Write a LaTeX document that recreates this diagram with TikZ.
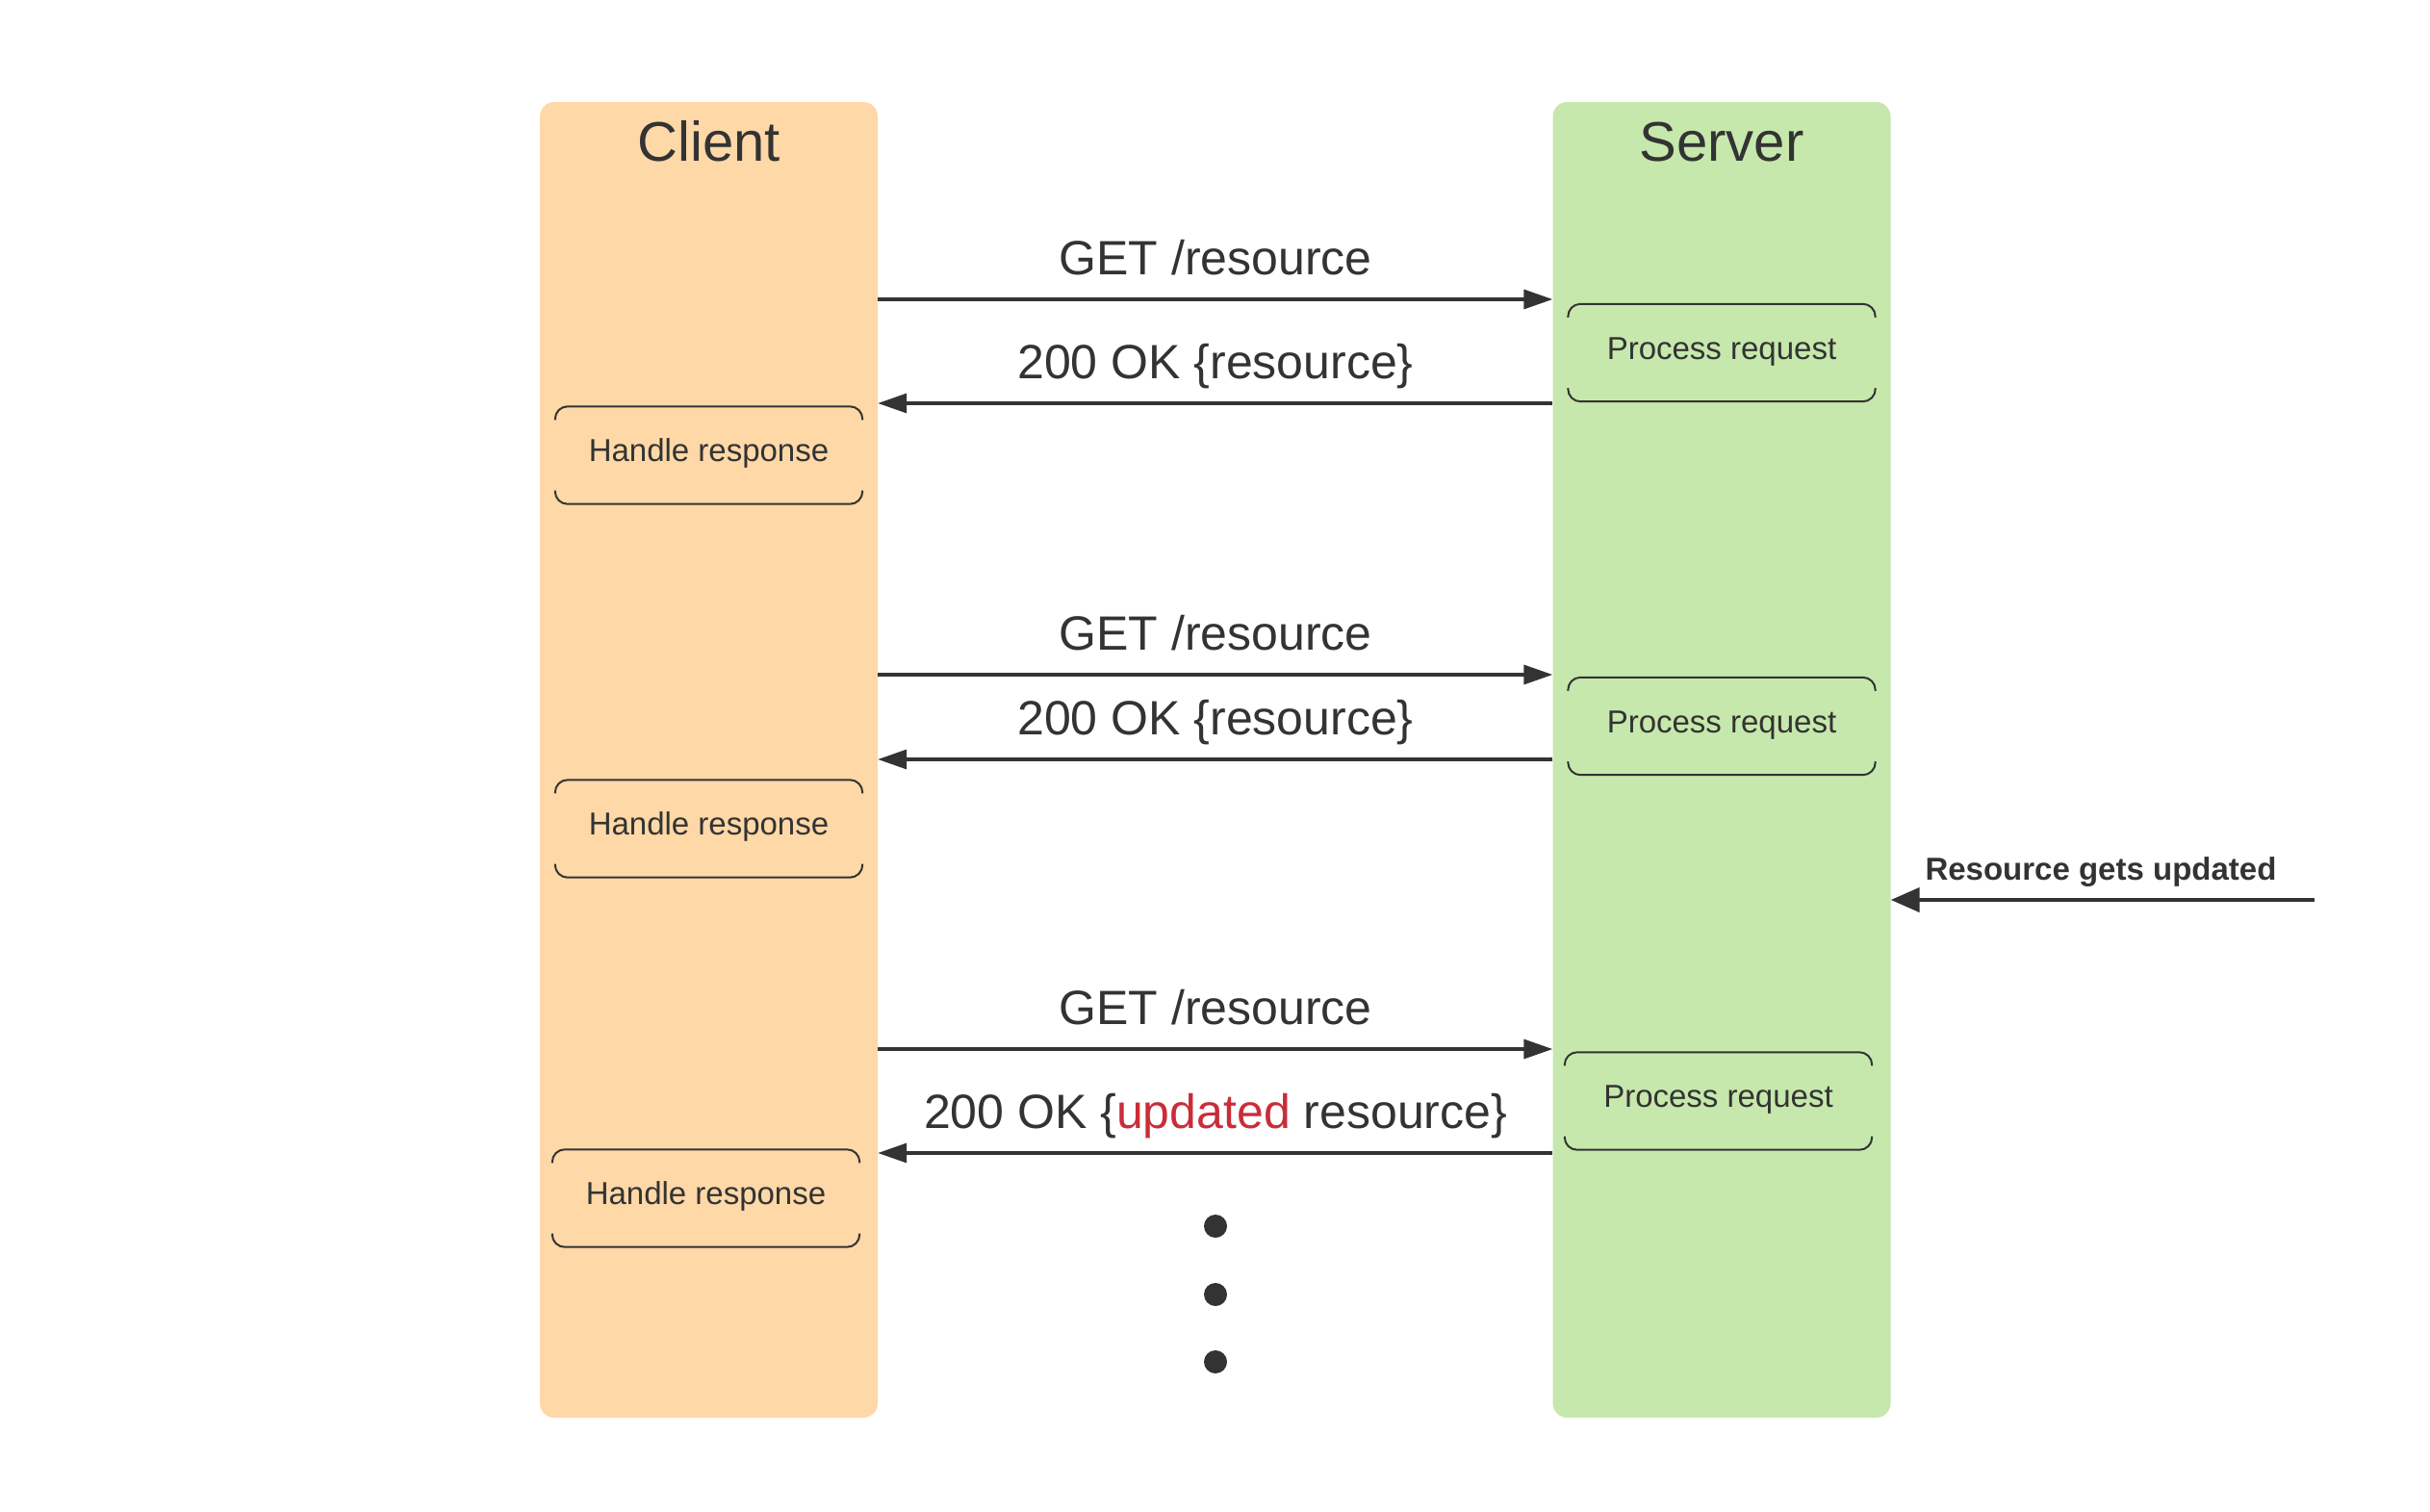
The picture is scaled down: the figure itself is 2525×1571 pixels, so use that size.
\documentclass[tikz,border=0pt]{standalone}
\usepackage{fontspec}
\setmainfont{Liberation Sans}
\usetikzlibrary{arrows.meta}
\definecolor{txt}{HTML}{333333}
\definecolor{clientfill}{HTML}{FED8A7}
\definecolor{serverfill}{HTML}{C6E8AC}
\definecolor{upred}{HTML}{C92D39}
\newcommand\fsz[1]{\fontsize{#1pt}{#1pt}\selectfont}
\tikzset{
  col/.style={rectangle, rounded corners=15pt, draw=none, minimum width=351pt, minimum height=1367pt, inner sep=0pt},
  coltitle/.style={anchor=base, text=txt, font=\fsz{58}, inner sep=0pt},
  msglabel/.style={anchor=base, text=txt, font=\fsz{50}, inner sep=0pt},
  stepbox/.style={rectangle, minimum width=319pt, minimum height=101pt, inner sep=0pt, text height=23pt, text depth=10pt, text=txt, font=\fsz{33}},
  bracketline/.style={draw=txt, line width=2pt, rounded corners=13pt},
  msgarrow/.style={draw=txt, line width=3.3pt, -{Triangle[length=30pt,width=20pt]}},
  updarrow/.style={draw=txt, line width=4.5pt, -{Triangle[length=30pt,width=25pt]}},
  dotn/.style={circle, fill=txt, minimum size=24pt, inner sep=0pt, draw=none}
}
\begin{document}
\begin{tikzpicture}[x=1pt,y=-1pt]
\useasboundingbox[fill=white] (0,0) rectangle (2525,1571);
% columns
\node[col, fill=clientfill] (client) at (736.5,789.5) {};
\node[col, fill=serverfill] (server) at (1789,789.5) {};
\node[coltitle] (clienttitle) at (737,167) {Client};
\node[coltitle] (servertitle) at (1789,167) {Server};
% step boxes
\node[stepbox] (pr1) at (1789,366.5) {Process request};
\node[stepbox] (pr2) at (1789,754.5) {Process request};
\node[stepbox] (pr3) at (1785.5,1144) {Process request};
\node[stepbox] (hr1) at (736.5,473) {Handle response};
\node[stepbox] (hr2) at (736.5,861) {Handle response};
\node[stepbox] (hr3) at (733.5,1245) {Handle response};
\foreach \b in {pr1,pr2,pr3,hr1,hr2,hr3}{
  \draw[bracketline] ([yshift=-14pt]\b.north west) -- (\b.north west) -- (\b.north east) -- ([yshift=-14pt]\b.north east);
  \draw[bracketline] ([yshift=14pt]\b.south west) -- (\b.south west) -- (\b.south east) -- ([yshift=14pt]\b.south east);
}
% message rows
\coordinate (r1) at (0,311);
\coordinate (r2) at (0,419);
\coordinate (r3) at (0,701);
\coordinate (r4) at (0,789);
\coordinate (r5) at (0,1090);
\coordinate (r6) at (0,1198);
\draw[msgarrow] (client.east |- r1) -- (server.west |- r1);
\draw[msgarrow] (server.west |- r2) -- (client.east |- r2);
\draw[msgarrow] (client.east |- r3) -- (server.west |- r3);
\draw[msgarrow] (server.west |- r4) -- (client.east |- r4);
\draw[msgarrow] (client.east |- r5) -- (server.west |- r5);
\draw[msgarrow] (server.west |- r6) -- (client.east |- r6);
\node[msglabel] (l1) at (1263,285) {GET /resource};
\node[msglabel] (l2) at (1263,393) {200 OK \{resource\}};
\node[msglabel] (l3) at (1263,675) {GET /resource};
\node[msglabel] (l4) at (1263,763) {200 OK \{resource\}};
\node[msglabel] (l5) at (1263,1064) {GET /resource};
\node[msglabel] (l6) at (1263,1172) {200 OK \{\textcolor{upred}{updated} resource\}};
% update event
\coordinate (upd) at (2405,935);
\draw[updarrow] (upd) -- (server.east |- upd);
\node[anchor=base, text=txt, font=\fsz{33}\bfseries, inner sep=0pt] (updlabel) at (2183,914) {Resource gets updated};
% ellipsis dots
\node[dotn] (d1) at (1263,1274) {};
\node[dotn] (d2) at (1263,1345) {};
\node[dotn] (d3) at (1263,1415) {};
\end{tikzpicture}
\end{document}
